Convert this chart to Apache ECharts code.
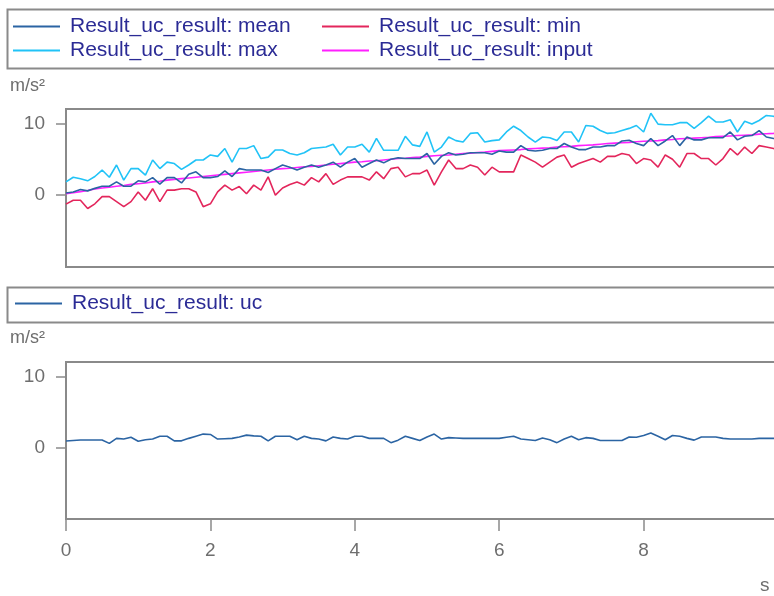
<!DOCTYPE html>
<html>
<head>
<meta charset="utf-8">
<script src="https://cdn.jsdelivr.net/npm/echarts@6/dist/echarts.min.js"></script>
<style>
html,body{margin:0;padding:0;background:#fff;}
#chart{width:774px;height:596px;}
</style>
</head>
<body>
<div id="chart"></div>
<script>
// ---- data (time step 0.1 s) ----
var times = [];
for (var k = 0; k < 100; k++) { times.push(+(k * 0.1).toFixed(1)); }

var meanValues = [0.3,0.45,0.8,0.6,0.95,1.25,1.25,1.85,1.25,1.25,
  2.0,1.85,2.45,1.55,2.45,2.45,1.7,2.9,3.25,2.45,
  2.45,2.6,3.4,2.6,3.7,3.5,3.5,3.5,3.15,3.7,
  4.2,3.9,3.5,3.9,4.2,3.9,4.2,4.6,3.9,4.6,
  5.1,3.9,4.4,4.9,4.5,5.0,5.2,5.1,5.1,5.1,
  5.8,4.3,5.4,5.9,5.6,5.7,5.9,5.9,5.9,5.7,
  6.15,6.0,6.0,6.9,6.25,6.15,6.25,6.5,6.5,7.2,
  6.7,6.35,6.35,6.7,6.7,6.9,6.9,7.55,7.65,7.2,
  6.9,7.9,6.9,7.55,8.3,6.9,8.1,7.7,7.7,8.0,
  8.0,8.0,8.8,7.7,8.2,8.3,9.0,8.1,7.9,7.9];

var maxValues = [1.85,2.5,2.3,2.0,2.6,3.5,2.5,4.2,2.1,3.7,
  3.7,2.8,4.9,3.7,4.6,4.4,3.6,4.2,4.9,4.9,
  5.6,5.4,6.5,4.6,6.5,6.5,6.9,5.1,5.3,6.3,
  6.3,5.8,5.6,5.9,6.5,6.6,6.7,7.1,5.6,6.7,
  6.7,7.1,6.0,7.9,6.25,6.25,6.25,8.2,7.0,6.8,
  8.8,6.0,6.7,8.1,7.6,7.4,8.6,8.7,7.4,7.6,
  7.7,8.8,9.6,9.0,8.1,7.4,8.1,8.0,7.6,8.8,
  8.8,7.4,9.7,9.6,9.0,8.6,8.7,9.0,9.3,9.7,
  8.8,11.4,9.9,9.8,9.8,10.1,10.1,9.3,10.1,11.0,
  10.2,10.2,10.5,8.8,10.3,9.9,10.4,11.1,11.0,10.3];

var minValues = [-1.25,-0.7,-0.7,-1.85,-1.2,-0.2,-0.2,-0.9,-1.6,-0.9,
  0.45,-0.7,0.9,-0.9,0.7,0.7,0.9,0.9,0.45,-1.6,
  -1.2,0.45,1.4,0.7,1.2,0.2,1.4,0.7,2.55,0.0,
  1.0,1.5,1.85,1.4,2.45,1.85,3.0,1.5,2.1,2.55,
  2.55,2.55,2.1,3.25,2.3,3.7,3.9,2.55,3.0,3.0,
  3.5,1.4,3.25,4.9,3.7,3.7,4.2,3.9,2.8,3.9,
  3.25,3.25,3.25,5.6,5.1,4.6,3.9,4.6,5.3,5.6,
  3.9,4.4,4.75,5.1,4.6,5.4,5.4,5.8,5.6,4.4,
  5.1,4.9,3.9,5.6,5.0,3.9,5.8,5.8,5.1,5.1,
  4.2,5.1,6.5,5.6,6.7,5.8,6.9,6.7,6.5,6.25];

var inputValues = [0.2,0.35,0.5,0.65,0.85,1.0,1.1,1.25,1.35,1.5,
  1.6,1.7,1.85,1.95,2.1,2.2,2.3,2.4,2.5,2.6,
  2.7,2.8,2.9,3.0,3.1,3.2,3.3,3.4,3.5,3.6,
  3.7,3.75,3.85,3.95,4.0,4.1,4.2,4.3,4.4,4.5,
  4.6,4.65,4.75,4.8,4.9,5.0,5.1,5.15,5.25,5.3,
  5.4,5.5,5.55,5.6,5.7,5.8,5.85,5.95,6.0,6.1,
  6.2,6.25,6.3,6.35,6.45,6.5,6.55,6.6,6.7,6.75,
  6.8,6.9,6.95,7.0,7.1,7.2,7.25,7.3,7.35,7.45,
  7.5,7.55,7.6,7.7,7.75,7.85,7.9,7.95,8.0,8.05,
  8.15,8.2,8.25,8.3,8.35,8.4,8.5,8.55,8.6,8.7];

var ucValues = [0.93,1.0,1.07,1.07,1.07,1.07,0.6,1.3,1.2,1.45,
  0.9,1.1,1.2,1.6,1.6,0.95,0.95,1.3,1.6,1.9,
  1.85,1.2,1.25,1.3,1.5,1.75,1.65,1.6,0.95,1.6,
  1.6,1.6,1.1,1.6,1.3,1.2,0.95,1.5,1.3,1.2,
  1.6,1.6,1.3,1.3,1.3,0.7,1.05,1.6,1.3,1.0,
  1.5,1.9,1.2,1.4,1.35,1.3,1.3,1.3,1.3,1.3,
  1.3,1.45,1.6,1.2,1.1,1.0,1.35,1.1,0.7,1.2,
  1.6,1.1,1.4,1.3,1.0,1.0,1.0,1.0,1.5,1.45,
  1.7,2.05,1.6,1.1,1.7,1.6,1.3,1.05,1.5,1.5,
  1.5,1.3,1.2,1.2,1.2,1.2,1.3,1.3,1.3,1.3];

var xTickValues = [0, 2, 4, 6, 8];
var yTickValues = [0, 10];
var seriesNames = ['Result_uc_result: mean', 'Result_uc_result: max',
                   'Result_uc_result: min', 'Result_uc_result: input',
                   'Result_uc_result: uc'];
var unitY = 'm/s²';
var unitX = 's';

// ---- build ----
function pairs(vals) { return vals.map(function (v, i) { return [times[i], v]; }); }

var FONT = '"Liberation Sans", Arial, sans-serif';
var C_MEAN = '#2b64a3', C_MAX = '#21c3f7', C_MIN = '#e3265c', C_INPUT = '#ff1fff';
var AXIS_GRAY = '#8a8a8a', LABEL_GRAY = '#6e6e6e', LEGEND_TEXT = '#2b2b95';

function legendCfg(names, left, top) {
  return {
    data: names, orient: 'vertical', left: left, top: top, padding: 0,
    icon: 'rect', itemWidth: 47, itemHeight: 2, itemGap: 3,
    selectedMode: false,
    textStyle: { color: LEGEND_TEXT, fontSize: 21, fontFamily: FONT, padding: [0, 0, 0, 5] }
  };
}

function yAxisCfg(gi) {
  return {
    type: 'value', gridIndex: gi, min: -10, max: 12, interval: 10,
    axisLine: { show: false },
    axisTick: { show: true, length: 10, customValues: yTickValues, lineStyle: { color: AXIS_GRAY, width: 1.5 } },
    axisLabel: { customValues: yTickValues, color: LABEL_GRAY, fontSize: 19, fontFamily: FONT, margin: 21 },
    splitLine: { show: false }
  };
}

function lineSeries(name, vals, color, xi, yi, z) {
  return {
    type: 'line', name: name, data: pairs(vals), xAxisIndex: xi, yAxisIndex: yi,
    showSymbol: false, symbol: 'none', animation: false, z: z,
    lineStyle: { color: color, width: 1.6 }, itemStyle: { color: color }
  };
}

var chart = echarts.init(document.getElementById('chart'));
chart.setOption({
  backgroundColor: '#ffffff',
  animation: false,
  legend: [
    legendCfg([seriesNames[0], seriesNames[1]], 13, 16),
    legendCfg([seriesNames[2], seriesNames[3]], 322, 16),
    legendCfg([seriesNames[4]], 15, 293)
  ],
  graphic: [
    { type: 'rect', left: 5, top: 7, shape: { width: 790, height: 59 }, style: { fill: 'none', stroke: AXIS_GRAY, lineWidth: 2 }, z: -1 },
    { type: 'rect', left: 5, top: 285, shape: { width: 790, height: 35 }, style: { fill: 'none', stroke: AXIS_GRAY, lineWidth: 2 }, z: -1 },
    { type: 'text', left: 10, top: 77, style: { text: unitY, fill: LABEL_GRAY, font: '18px ' + FONT } },
    { type: 'text', left: 10, top: 329, style: { text: unitY, fill: LABEL_GRAY, font: '18px ' + FONT } },
    { type: 'text', left: 760, top: 576, style: { text: unitX, fill: LABEL_GRAY, font: '19px ' + FONT } }
  ],
  grid: [
    { left: 66, top: 109, width: 722, height: 158, show: true, borderColor: AXIS_GRAY, borderWidth: 2, backgroundColor: 'transparent', outerBoundsMode: 'none', containLabel: false },
    { left: 66, top: 362, width: 722, height: 157, show: true, borderColor: AXIS_GRAY, borderWidth: 2, backgroundColor: 'transparent', outerBoundsMode: 'none', containLabel: false }
  ],
  xAxis: [
    { type: 'value', gridIndex: 0, min: 0, max: 10, show: false, splitLine: { show: false } },
    { type: 'value', gridIndex: 1, min: 0, max: 10, interval: 2,
      axisLine: { show: true, onZero: false, lineStyle: { color: AXIS_GRAY, width: 2 } },
      axisTick: { show: true, length: 12, customValues: xTickValues, lineStyle: { color: AXIS_GRAY, width: 1.5 } },
      axisLabel: { customValues: xTickValues, color: LABEL_GRAY, fontSize: 19, fontFamily: FONT, margin: 22 },
      splitLine: { show: false } }
  ],
  yAxis: [yAxisCfg(0), yAxisCfg(1)],
  series: [
    lineSeries(seriesNames[1], maxValues, C_MAX, 0, 0, 2),
    lineSeries(seriesNames[2], minValues, C_MIN, 0, 0, 3),
    lineSeries(seriesNames[3], inputValues, C_INPUT, 0, 0, 4),
    lineSeries(seriesNames[0], meanValues, C_MEAN, 0, 0, 5),
    lineSeries(seriesNames[4], ucValues, C_MEAN, 1, 1, 5)
  ]
});
</script>
</body>
</html>
